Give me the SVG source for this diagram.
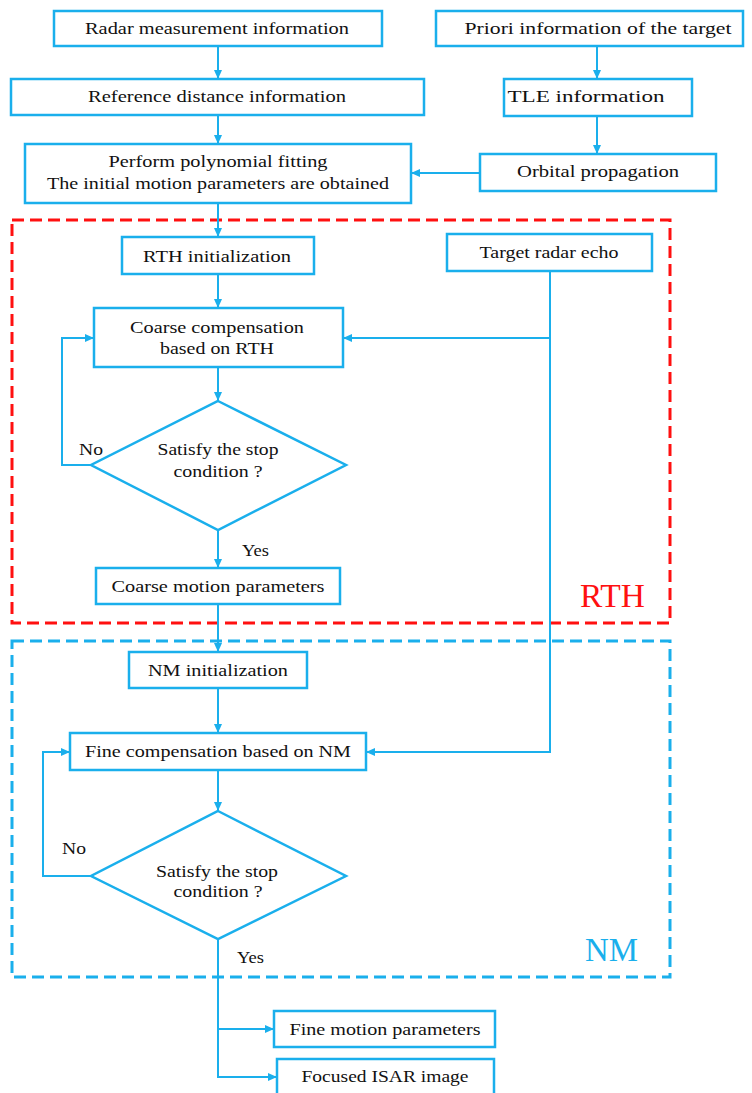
<svg xmlns="http://www.w3.org/2000/svg" width="752" height="1093" viewBox="0 0 752 1093">
<style>
.box{fill:#fff;stroke:#1AAFEC;stroke-width:2.5}
.dia{fill:#fff;stroke:#1AAFEC;stroke-width:2.5}
.c{fill:none;stroke:#1AAFEC;stroke-width:2}
.t{font-family:"Liberation Serif",serif;font-size:17px;fill:#111;text-anchor:middle}
.tl{font-family:"Liberation Serif",serif;font-size:17px;fill:#111}
.red{fill:none;stroke:#FF1010;stroke-width:3;stroke-dasharray:12 6}
.bl{fill:none;stroke:#1AAFEC;stroke-width:3;stroke-dasharray:12 6}
</style>
<defs>
<marker id="ah" markerUnits="userSpaceOnUse" markerWidth="10" markerHeight="10" viewBox="0 0 10 10" refX="9" refY="5" orient="auto">
<path d="M0,1 L9,5 L0,9 Z" fill="#1AAFEC"/>
</marker>
</defs>
<rect width="752" height="1093" fill="#fff"/>
<g id="regions">
<rect class="red" x="12" y="220" width="658" height="403"/>
<text x="580" y="607" style="font-family:'Liberation Serif',serif;font-size:33px;fill:#FF1010" textLength="65" lengthAdjust="spacingAndGlyphs">RTH</text>
<rect class="bl" x="12" y="641" width="658" height="336"/>
<text x="585" y="961" style="font-family:'Liberation Serif',serif;font-size:33px;fill:#1AAFEC" textLength="53" lengthAdjust="spacingAndGlyphs">NM</text>
</g>
<g id="connectors">
<line class="c" x1="218" y1="46" x2="218" y2="79" marker-end="url(#ah)"/>
<line class="c" x1="218" y1="115" x2="218" y2="144" marker-end="url(#ah)"/>
<line class="c" x1="597" y1="46" x2="597" y2="79" marker-end="url(#ah)"/>
<line class="c" x1="597" y1="116" x2="597" y2="154" marker-end="url(#ah)"/>
<line class="c" x1="480" y1="173" x2="411" y2="173" marker-end="url(#ah)"/>
<line class="c" x1="218" y1="203" x2="218" y2="237" marker-end="url(#ah)"/>
<line class="c" x1="218" y1="274" x2="218" y2="308" marker-end="url(#ah)"/>
<path class="c" d="M550,271 V338 H343" marker-end="url(#ah)"/>
<path class="c" d="M550,338 V752 H366" marker-end="url(#ah)"/>
<line class="c" x1="218" y1="367" x2="218" y2="401" marker-end="url(#ah)"/>
<path class="c" d="M91,465 H62 V338 H94" marker-end="url(#ah)"/>
<line class="c" x1="218" y1="530" x2="218" y2="568" marker-end="url(#ah)"/>
<line class="c" x1="218" y1="604" x2="218" y2="652" marker-end="url(#ah)"/>
<line class="c" x1="218" y1="688" x2="218" y2="733" marker-end="url(#ah)"/>
<line class="c" x1="218" y1="770" x2="218" y2="811" marker-end="url(#ah)"/>
<path class="c" d="M91,876 H43 V752 H70" marker-end="url(#ah)"/>
<path class="c" d="M218,939 V1077 H277" marker-end="url(#ah)"/>
<path class="c" d="M218,1029 H274" marker-end="url(#ah)"/>
<text class="tl" x="79" y="455" textLength="24" lengthAdjust="spacingAndGlyphs">No</text>
<text class="tl" x="242" y="556" textLength="27" lengthAdjust="spacingAndGlyphs">Yes</text>
<text class="tl" x="62" y="854" textLength="24" lengthAdjust="spacingAndGlyphs">No</text>
<text class="tl" x="237" y="963" textLength="27" lengthAdjust="spacingAndGlyphs">Yes</text>
</g>
<g id="n-radar"><rect class="box" x="54" y="11" width="328" height="35"/><text class="t" x="217" y="34" textLength="264" lengthAdjust="spacingAndGlyphs">Radar measurement information</text></g>
<g id="n-priori"><rect class="box" x="436" y="11" width="307" height="35"/><text class="t" x="598" y="34" textLength="267" lengthAdjust="spacingAndGlyphs">Priori  information  of  the  target</text></g>
<g id="n-reference"><rect class="box" x="11" y="79" width="413" height="36"/><text class="t" x="217" y="102" textLength="258" lengthAdjust="spacingAndGlyphs">Reference  distance  information</text></g>
<g id="n-tle"><rect class="box" x="504" y="79" width="188" height="37"/><text class="t" x="586" y="102" textLength="157" lengthAdjust="spacingAndGlyphs">TLE information</text></g>
<g id="n-poly"><rect class="box" x="25" y="144" width="386" height="59"/><text class="t" x="218" y="167" textLength="219" lengthAdjust="spacingAndGlyphs">Perform polynomial fitting</text><text class="t" x="218" y="189" textLength="342" lengthAdjust="spacingAndGlyphs">The initial motion parameters are obtained</text></g>
<g id="n-orbital"><rect class="box" x="480" y="154" width="236" height="37"/><text class="t" x="598" y="177" textLength="162" lengthAdjust="spacingAndGlyphs">Orbital propagation</text></g>
<g id="n-rthinit"><rect class="box" x="122" y="237" width="192" height="37"/><text class="t" x="217" y="262" textLength="148" lengthAdjust="spacingAndGlyphs">RTH initialization</text></g>
<g id="n-echo"><rect class="box" x="447" y="234" width="205" height="37"/><text class="t" x="549" y="258" textLength="139" lengthAdjust="spacingAndGlyphs">Target radar echo</text></g>
<g id="n-coarse"><rect class="box" x="94" y="308" width="249" height="59"/><text class="t" x="217" y="333" textLength="174" lengthAdjust="spacingAndGlyphs">Coarse compensation</text><text class="t" x="217" y="354" textLength="114" lengthAdjust="spacingAndGlyphs">based on RTH</text></g>
<g id="n-cond1"><polygon class="dia" points="218,401 346,465 218,530 91,465"/><text class="t" x="218" y="455" textLength="121" lengthAdjust="spacingAndGlyphs">Satisfy the stop</text><text class="t" x="218" y="477" textLength="89" lengthAdjust="spacingAndGlyphs">condition ?</text></g>
<g id="n-coarsepar"><rect class="box" x="96" y="568" width="244" height="36"/><text class="t" x="218" y="592" textLength="213" lengthAdjust="spacingAndGlyphs">Coarse motion parameters</text></g>
<g id="n-nminit"><rect class="box" x="129" y="652" width="178" height="36"/><text class="t" x="218" y="676" textLength="140" lengthAdjust="spacingAndGlyphs">NM initialization</text></g>
<g id="n-fine"><rect class="box" x="70" y="733" width="296" height="37"/><text class="t" x="218" y="757" textLength="266" lengthAdjust="spacingAndGlyphs">Fine compensation based on NM</text></g>
<g id="n-cond2"><polygon class="dia" points="218,811 346,876 218,939 91,876"/><text class="t" x="217" y="877" textLength="122" lengthAdjust="spacingAndGlyphs">Satisfy the stop</text><text class="t" x="218" y="897" textLength="89" lengthAdjust="spacingAndGlyphs">condition ?</text></g>
<g id="n-finepar"><rect class="box" x="274" y="1011" width="221" height="36"/><text class="t" x="385" y="1035" textLength="191" lengthAdjust="spacingAndGlyphs">Fine motion parameters</text></g>
<g id="n-isar"><rect class="box" x="277" y="1059" width="217" height="40"/><text class="t" x="385" y="1082" textLength="167" lengthAdjust="spacingAndGlyphs">Focused ISAR image</text></g>
</svg>
